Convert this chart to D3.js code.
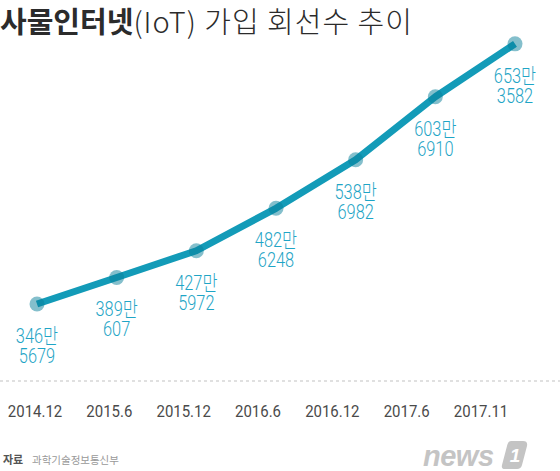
<!DOCTYPE html>
<html><head><meta charset="utf-8">
<script src="https://cdn.jsdelivr.net/npm/d3@7"></script>
<style>
html,body{margin:0;padding:0;background:#fff;}
svg{display:block;}
</style></head>
<body>
<svg id="c" width="560" height="471"></svg>
<script>
const categories = ["2014.12","2015.6","2015.12","2016.6","2016.12","2017.6","2017.11"];
const subscribers = [3465679, 3890607, 4275972, 4826248, 5386982, 6036910, 6533582];
const titleBold = "사물인터넷";
const titleLight = "(IoT) 가입 회선수 추이";
const sourceLabel = "자료";
const sourceText = "과학기술정보통신부";

const svg = d3.select("#c");
const num = "Roboto,'Noto Sans CJK KR',sans-serif";
const kr = "'Noto Sans CJK KR',sans-serif";

const x = d3.scalePoint().domain(categories).range([37, 515]);
const xAxisPos = d3.scalePoint().domain(categories).range([35, 481]);
const y = d3.scalePow().exponent(2).domain([3000000, 7000000]).range([329.5, -9.7]);

// title
const t = svg.append("text").attr("x", 0).attr("y", 33)
  .attr("font-family", kr).attr("font-size", 29).attr("fill", "#2b2b2b");
t.append("tspan").attr("font-weight", 700).attr("letter-spacing", 0).text(titleBold);
t.append("tspan").attr("font-weight", 300).attr("letter-spacing", 1).text(titleLight);

// dashed baseline
svg.append("line").attr("x1", 0).attr("x2", 560).attr("y1", 381).attr("y2", 381)
  .attr("stroke", "#d6d6d6").attr("stroke-width", 1.5).attr("stroke-dasharray", "3,3");

// line
const data = categories.map((c, i) => ({c, v: subscribers[i]}));
svg.append("path").datum(data)
  .attr("d", d3.line().x(d => x(d.c)).y(d => y(d.v)))
  .attr("fill", "none").attr("stroke", "#139bb8").attr("stroke-width", 7)
  .attr("stroke-linejoin", "round");

svg.selectAll("circle.pt").data(data).enter().append("circle")
  .attr("class", "pt")
  .attr("cx", d => x(d.c)).attr("cy", d => y(d.v)).attr("r", 7.5)
  .attr("fill", "#0a7f9a").attr("fill-opacity", 0.5);

// value labels (one text element, two lines)
const lab = svg.selectAll("g.lab").data(data).enter().append("g").attr("class", "lab")
  .attr("transform", d => `translate(${x(d.c)},${y(d.v)}) scale(0.78,1)`);
const lt = lab.append("text").attr("text-anchor", "middle")
  .attr("font-family", num).attr("font-size", 21).attr("font-weight", 300).attr("fill", "#1fa5c6");
lt.append("tspan").attr("x", 0).attr("y", 39).text(d => Math.floor(d.v / 10000) + "만");
lt.append("tspan").attr("x", 0).attr("y", 59).text(d => String(d.v % 10000));

// x axis labels
svg.selectAll("g.xl").data(categories).enter().append("g").attr("class", "xl")
  .attr("transform", d => `translate(${xAxisPos(d)},417) scale(0.88,1)`)
  .append("text").attr("text-anchor", "middle")
  .attr("font-family", num).attr("font-size", 17).attr("font-weight", 400).attr("fill", "#4a4a4a")
  .text(d => d);

// source
svg.append("text").attr("x", 3).attr("y", 464).attr("font-family", kr)
  .attr("font-size", 11).attr("font-weight", 700).attr("fill", "#555").text(sourceLabel);
svg.append("text").attr("x", 32).attr("y", 464).attr("font-family", kr)
  .attr("font-size", 10.5).attr("fill", "#999").text(sourceText);

// logo
const logo = svg.append("g").attr("transform", "translate(423,466)");
logo.append("text").attr("x", 0).attr("y", 0).attr("font-family", "'Liberation Sans',sans-serif")
  .attr("font-size", 29).attr("font-weight", 700).attr("font-style", "italic")
  .attr("fill", "#c4c4c4").attr("letter-spacing", -0.5).text("news");
logo.append("path").attr("d", "M88,-25 h12 q5,0 4,5 l-5,19 q-1,4 -5,4 h-12 q-4,0 -3,-4 l5,-19 q1,-5 4,-5 z")
  .attr("fill", "#c4c4c4");
logo.append("text").attr("x", 92).attr("y", -4).attr("text-anchor", "middle")
  .attr("font-family", "'Liberation Sans',sans-serif").attr("font-size", 19).attr("font-weight", 700)
  .attr("font-style", "italic").attr("fill", "#fff").text("1");
</script>
</body></html>
